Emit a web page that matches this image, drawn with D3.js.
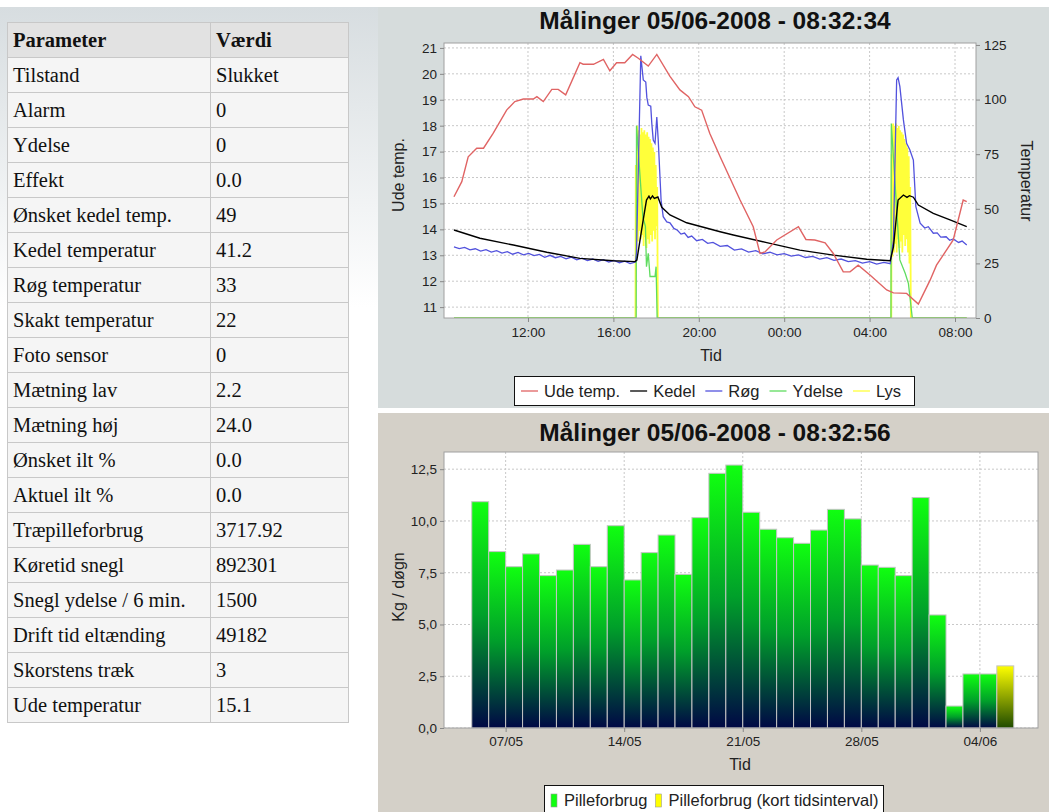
<!DOCTYPE html>
<html>
<head>
<meta charset="utf-8">
<script src="https://cdnjs.cloudflare.com/ajax/libs/d3/7.8.5/d3.min.js"></script>
<style>
body { margin: 0; background: #fff; }
#wrap { position: relative; width: 1049px; height: 812px; overflow: hidden; }
#wrap svg { position: absolute; left: 0; top: 0; }
table { position: absolute; left: 7px; top: 22px; border-collapse: collapse; table-layout: fixed; width: 341px;
        font-family: "Liberation Serif", "Times New Roman", serif; font-size: 20.5px; color: #111; }
td, th { border: 1px solid #c8c8c8; height: 35px; padding: 0 0 0 5px; text-align: left; background: #f5f5f5;
         white-space: nowrap; box-sizing: border-box; }
th { background: #e2e2e2; font-weight: bold; }
.tick text { font-family: "Liberation Sans", Arial, sans-serif; font-size: 13.5px; fill: #222; }
.tick line { stroke: #888; }
.title { font-family: "Liberation Sans", Arial, sans-serif; font-size: 24.5px; font-weight: bold; fill: #111; }
.lbl { font-family: "Liberation Sans", Arial, sans-serif; font-size: 16px; fill: #222; }
.leg { font-family: "Liberation Sans", Arial, sans-serif; font-size: 16.5px; fill: #222; }
</style>
</head>
<body>
<div id="wrap"></div>
<script>
// ---- parameter table
var paramNames = ["Tilstand", "Alarm", "Ydelse", "Effekt", "Ønsket kedel temp.", "Kedel temperatur",
  "Røg temperatur", "Skakt temperatur", "Foto sensor", "Mætning lav", "Mætning høj", "Ønsket ilt %",
  "Aktuel ilt %", "Træpilleforbrug", "Køretid snegl", "Snegl ydelse / 6 min.", "Drift tid eltænding",
  "Skorstens træk", "Ude temperatur"];
var paramValues = ["Slukket", "0", "0", "0.0", "49", "41.2", "33", "22", "0", "2.2", "24.0", "0.0",
  "0.0", "3717.92", "892301", "1500", "49182", "3", "15.1"];

// ---- top chart: 04/06 08:32 -> 05/06 08:32
var udeTemp = [["08:32",15.26],["08:54",15.84],["09:12",16.8],["09:36",17.13],["09:55",17.13],["10:22",17.7],
  ["11:00",18.6],["11:23",18.93],["11:47",19.03],["12:15",19.03],["12:25",19.12],["12:43",18.93],["13:07",19.4],
  ["13:25",19.4],["13:46",19.19],["14:26",20.43],["14:35",20.37],["15:04",20.37],["15:32",20.56],["15:50",20.12],
  ["16:09",20.43],["16:32",20.43],["16:54",20.75],["17:10",20.6],["17:38",20.3],["18:02",20.75],["18:39",19.9],
  ["19:07",19.38],["19:31",19.12],["19:49",18.73],["20:08",18.6],["20:31",17.7],["21:00",16.8],["21:56",15.13],
  ["22:33",14.1],["22:52",13.07],["23:06",13.13],["23:39",13.59],["00:40",14.1],["01:01",13.61],["01:26",13.59],
  ["01:55",13.48],["02:18",13.07],["02:46",12.36],["03:05",12.36],["03:28",12.62],["04:01",12.24],["04:48",11.66],
  ["05:07",11.55],["05:44",11.53],["06:17",11.12],["06:50",12.04],["07:08",12.62],["07:55",13.59],["08:23",15.13],
  ["08:33",15.07]];
var kedel = [["08:32",40.3],["09:45",36.5],["11:19",33.4],["12:53",30.1],["14:26",27.3],["16:00",26.2],["17:01",25.8],
  ["17:06",26.5],["17:23",44.1],["17:33",54],["17:40",55.8],["17:44",54.5],["17:50",55.9],["17:55",54.8],["18:05",55.4],
  ["18:16",50.7],["18:39",47.2],["19:26",43.6],["21:00",39.5],["21:37",38],["23:11",34.5],["00:44",31.1],["02:18",28.8],
  ["03:52",26.9],["04:58",26.2],["05:07",32.6],["05:20",54],["05:35",56.3],["05:45",55.2],["05:52",56],["06:03",55.3],
  ["06:17",51.7],["06:59",47.9],["07:46",44.9],["08:33",41.8]];
var roeg = [["08:32",32.6],["08:47",31.8],["09:02",32.3],["09:17",31.2],["09:32",31.7],["09:47",30.6],["10:02",31.3],
  ["10:17",30.2],["10:32",30.8],["10:47",29.7],["11:02",30.4],["11:17",29.2],["11:32",30.0],["11:47",28.9],["12:02",29.6],
  ["12:17",28.6],["12:32",29.1],["12:47",27.8],["13:02",28.7],["13:17",27.6],["13:32",28.2],["13:47",27.1],["14:02",27.9],
  ["14:17",26.6],["14:32",27.4],["14:47",26.3],["15:02",27.0],["15:17",25.9],["15:32",26.7],["15:47",25.6],["16:02",26.4],
  ["16:17",25.3],["16:32",26.0],["16:47",24.9],["17:02",25.6],["17:05",30],["17:17",120],["17:24",109],["17:31",108],
  ["17:34",101],["17:38",97.5],["17:45",97],["17:48",89],["17:52",81.5],["17:57",80],["18:02",92],["18:06",81.5],
  ["18:14",54],["18:20",46.4],["18:30",44.0],["18:39",43.6],["18:50",41.0],["19:00",40.2],["19:10",38.4],["19:20",38.9],
  ["19:30",36.9],["19:40",37.5],["19:54",35.4],["20:10",36.0],["20:25",34.2],["20:40",34.6],["21:00",32.8],["21:20",33.2],
  ["21:40",31.1],["22:00",31.6],["22:20",30.2],["22:40",30.8],["23:00",29.4],["23:20",30.1],["23:40",28.9],["00:00",29.5],
  ["00:20",28.3],["00:40",28.9],["01:00",27.7],["01:20",28.2],["01:40",27.0],["02:00",27.6],["02:20",26.4],["02:40",27.0],
  ["03:00",25.8],["03:20",26.3],["03:40",25.1],["04:00",25.8],["04:20",24.7],["04:40",25.5],["04:58",24.9],["05:07",35.7],
  ["05:16",109],["05:20",110],["05:25",106],["05:35",90.7],["05:44",80],["05:53",77],["06:03",72.3],["06:10",51],
  ["06:22",43.4],["06:35",41.2],["06:45",41.8],["06:59",38.8],["07:10",39.0],["07:20",37.0],["07:35",37.2],["07:45",35.6],
  ["07:55",36.2],["08:10",34.6],["08:20",35.2],["08:33",33.4]];
var ydelse = [["08:32",0],["17:04",0],["17:05",88],["17:23",46],["17:30",42],["17:33",23.5],["17:38",29.6],["17:43",19],
  ["17:57",19],["18:00",23.5],["18:03",0],["05:00",0],["05:01",89],["05:25",26.6],["05:40",20.5],["05:49",15.9],
  ["06:00",0],["08:33",0]];
var lys = [["08:32",0],["17:02",0],["17:03",70],["17:05",30],["17:07",88],["17:09",35],["17:11",86],["17:13",40],
  ["17:15",84],["17:17",36],["17:19",87],["17:21",38],["17:23",85],["17:25",33],["17:27",86],["17:29",37],["17:31",84],
  ["17:33",32],["17:35",85],["17:37",36],["17:39",83],["17:41",34],["17:43",82],["17:45",38],["17:47",80],["17:49",35],
  ["17:51",78],["17:53",40],["17:55",76],["17:57",36],["17:59",70],["18:01",42],["18:03",60],["18:05",0],["05:01",0],
  ["05:02",75],["05:04",28],["05:06",89],["05:08",30],["05:10",88],["05:12",34],["05:14",89],["05:16",30],["05:18",87],
  ["05:20",36],["05:22",88],["05:24",32],["05:26",86],["05:28",35],["05:30",85],["05:32",30],["05:34",84],["05:36",38],
  ["05:38",82],["05:40",33],["05:42",80],["05:44",36],["05:46",78],["05:48",30],["05:50",74],["05:52",25],["05:54",60],
  ["05:56",0],["08:33",0]];
var topTimeTicks = ["12:00", "16:00", "20:00", "00:00", "04:00", "08:00"];
var udeTicks = [11, 12, 13, 14, 15, 16, 17, 18, 19, 20, 21];
var tempTicks = [0, 25, 50, 75, 100, 125];

// ---- bottom chart: daily pellet consumption
var dayLabels = ["05/05","06/05","07/05","08/05","09/05","10/05","11/05","12/05","13/05","14/05","15/05","16/05",
  "17/05","18/05","19/05","20/05","21/05","22/05","23/05","24/05","25/05","26/05","27/05","28/05","29/05","30/05",
  "31/05","01/06","02/06","03/06","04/06"];
var pilleforbrug = [10.93, 8.52, 7.79, 8.41, 7.36, 7.63, 8.87, 7.79, 9.77, 7.15, 8.47, 9.32, 7.42, 10.16, 12.3, 12.7,
  10.42, 9.6, 9.19, 8.92, 9.56, 10.56, 10.1, 7.87, 7.76, 7.36, 11.13, 5.46, 1.06, 2.61, 2.61];
var kortDays = ["05/06"];
var kortValues = [3.0];
var dayTicks = ["07/05", "14/05", "21/05", "28/05", "04/06"];
var kgTicks = [0, 2.5, 5, 7.5, 10, 12.5];

// ---- helpers
function toSeries(pairs) {
  var day = 0, prev = -1;
  return pairs.map(function (p) {
    var hm = p[0].split(":"), m = +hm[0] * 60 + +hm[1];
    if (m < prev) day++;
    prev = m;
    return { t: new Date(2008, 5, 4 + day, +hm[0], +hm[1]), v: p[1] };
  });
}
function parseDay(s) {
  var a = s.split("/");
  return new Date(2008, +a[1] - 1, +a[0]);
}
function styleAxis(g) {
  g.select(".domain").remove();
}

// ---- table
var table = d3.select("#wrap").append("table");
var colgroup = table.append("colgroup");
colgroup.append("col").style("width", "203px");
colgroup.append("col").style("width", "138px");
var hr = table.append("tr");
hr.append("th").text("Parameter");
hr.append("th").text("Værdi");
paramNames.forEach(function (n, i) {
  var tr = table.append("tr");
  tr.append("td").text(n);
  tr.append("td").text(paramValues[i]);
});

var svg = d3.select("#wrap").insert("svg", "table").attr("width", 1049).attr("height", 812);
var defs = svg.append("defs");

var bg = defs.append("linearGradient").attr("id", "bgLeft").attr("x1", 0).attr("y1", 0).attr("x2", 0).attr("y2", 1);
bg.append("stop").attr("offset", 0).attr("stop-color", "#d7dde0");
bg.append("stop").attr("offset", 1).attr("stop-color", "#ffffff");
svg.append("rect").attr("x", 0).attr("y", 7).attr("width", 378).attr("height", 300).attr("fill", "url(#bgLeft)");

// ================= top chart =================
var p1 = { l: 444, r: 976, t: 43, b: 318 };
var gTop = svg.append("g");
gTop.append("rect").attr("x", 378).attr("y", 7).attr("width", 671).attr("height", 401).attr("fill", "#d6dcdc");
gTop.append("text").attr("class", "title").attr("x", 715).attr("y", 29).attr("text-anchor", "middle")
  .text("Målinger 05/06-2008 - 08:32:34");

var xT = d3.scaleTime().domain([new Date(2008, 5, 4, 8, 4), new Date(2008, 5, 5, 8, 59)]).range([p1.l, p1.r]);
var yL = d3.scaleLinear().domain([10.58, 21.19]).range([p1.b, p1.t]);
var yR = d3.scaleLinear().domain([0, 125.9]).range([p1.b, p1.t]);
var tickDates = toSeries(topTimeTicks.map(function (t) { return [t, 0]; })).map(function (d) { return d.t; });

gTop.append("rect").attr("x", p1.l).attr("y", p1.t).attr("width", p1.r - p1.l).attr("height", p1.b - p1.t)
  .attr("fill", "#fff");
gTop.selectAll(".hg").data(udeTicks).join("line")
  .attr("x1", p1.l).attr("x2", p1.r).attr("y1", function (d) { return yL(d); }).attr("y2", function (d) { return yL(d); })
  .attr("stroke", "#c8c8c8").attr("stroke-dasharray", "2,2");
gTop.selectAll(".vg").data(tickDates).join("line")
  .attr("y1", p1.t).attr("y2", p1.b).attr("x1", function (d) { return xT(d); }).attr("x2", function (d) { return xT(d); })
  .attr("stroke", "#c8c8c8").attr("stroke-dasharray", "2,2");

defs.append("clipPath").attr("id", "clipTop").append("rect")
  .attr("x", p1.l).attr("y", p1.t - 2).attr("width", p1.r - p1.l).attr("height", p1.b - p1.t + 2);

var lineR = d3.line().x(function (d) { return xT(d.t); }).y(function (d) { return yR(d.v); });
var lineL = d3.line().x(function (d) { return xT(d.t); }).y(function (d) { return yL(d.v); });
var plotTop = gTop.append("g").attr("clip-path", "url(#clipTop)");
[[lys, "#ffff3a", 1.8], [ydelse, "#5fdc5f", 1.3], [roeg, "#5252dd", 1.3], [kedel, "#000000", 1.4]].forEach(function (s) {
  plotTop.append("path").datum(toSeries(s[0])).attr("d", lineR)
    .attr("fill", "none").attr("stroke", s[1]).attr("stroke-width", s[2]);
});
plotTop.append("path").datum(toSeries(udeTemp)).attr("d", lineL)
  .attr("fill", "none").attr("stroke", "#e06464").attr("stroke-width", 1.4);

gTop.append("rect").attr("x", p1.l).attr("y", p1.t).attr("width", p1.r - p1.l).attr("height", p1.b - p1.t)
  .attr("fill", "none").attr("stroke", "#a0a0a0");

gTop.append("g").attr("transform", "translate(" + p1.l + ",0)")
  .call(d3.axisLeft(yL).tickValues(udeTicks).tickSize(4).tickPadding(3)).call(styleAxis);
gTop.append("g").attr("transform", "translate(" + p1.r + ",0)")
  .call(d3.axisRight(yR).tickValues(tempTicks).tickSize(4).tickPadding(4)).call(styleAxis);
gTop.append("g").attr("transform", "translate(0," + p1.b + ")")
  .call(d3.axisBottom(xT).tickValues(tickDates).tickFormat(d3.timeFormat("%H:%M")).tickSize(4).tickPadding(5))
  .call(styleAxis);

gTop.append("text").attr("class", "lbl").attr("transform", "translate(404,175) rotate(-90)")
  .attr("text-anchor", "middle").text("Ude temp.");
gTop.append("text").attr("class", "lbl").attr("transform", "translate(1021,181) rotate(90)")
  .attr("text-anchor", "middle").text("Temperatur");
gTop.append("text").attr("class", "lbl").attr("x", 711).attr("y", 361).attr("text-anchor", "middle").text("Tid");

// legend
var legTop = [["Ude temp.", "#e06464"], ["Kedel", "#000"], ["Røg", "#5252dd"], ["Ydelse", "#5fdc5f"], ["Lys", "#ffff3a"]];
var lt = gTop.append("g");
lt.append("rect").attr("x", 514.5).attr("y", 376.5).attr("width", 400).attr("height", 29)
  .attr("fill", "#fff").attr("stroke", "#111");
var lx = 521;
legTop.forEach(function (d) {
  lt.append("line").attr("x1", lx).attr("x2", lx + 17).attr("y1", 391).attr("y2", 391)
    .attr("stroke", d[1]).attr("stroke-width", 1.3);
  var t = lt.append("text").attr("class", "leg").attr("x", lx + 23).attr("y", 397).text(d[0]);
  lx += 23 + t.node().getComputedTextLength() + 10;
});

// ================= bottom chart =================
var p2 = { l: 444, r: 1038, t: 452, b: 728 };
var gBot = svg.append("g");
gBot.append("rect").attr("x", 378).attr("y", 413).attr("width", 671).attr("height", 399).attr("fill", "#d4d0c8");
gBot.append("text").attr("class", "title").attr("x", 715).attr("y", 441).attr("text-anchor", "middle")
  .text("Målinger 05/06-2008 - 08:32:56");

var xD = d3.scaleTime().domain([new Date(2008, 4, 3, 8, 40), new Date(2008, 5, 7, 10, 20)]).range([p2.l, p2.r]);
var yK = d3.scaleLinear().domain([0, 13.33]).range([p2.b, p2.t]);
var dayTickDates = dayTicks.map(parseDay);

gBot.append("rect").attr("x", p2.l).attr("y", p2.t).attr("width", p2.r - p2.l).attr("height", p2.b - p2.t)
  .attr("fill", "#fff");
gBot.selectAll(".hg").data(kgTicks).join("line")
  .attr("x1", p2.l).attr("x2", p2.r).attr("y1", function (d) { return yK(d); }).attr("y2", function (d) { return yK(d); })
  .attr("stroke", "#c8c8c8").attr("stroke-dasharray", "2,2");
gBot.selectAll(".vg").data(dayTickDates).join("line")
  .attr("y1", p2.t).attr("y2", p2.b).attr("x1", function (d) { return xD(d); }).attr("x2", function (d) { return xD(d); })
  .attr("stroke", "#c8c8c8").attr("stroke-dasharray", "2,2");

var gg = defs.append("linearGradient").attr("id", "barGreen").attr("x1", 0).attr("y1", 0).attr("x2", 0).attr("y2", 1);
gg.append("stop").attr("offset", 0).attr("stop-color", "#10ff10");
gg.append("stop").attr("offset", 0.5).attr("stop-color", "#00a02a");
gg.append("stop").attr("offset", 0.8).attr("stop-color", "#00443a");
gg.append("stop").attr("offset", 1).attr("stop-color", "#000845");
var gy = defs.append("linearGradient").attr("id", "barYellow").attr("x1", 0).attr("y1", 0).attr("x2", 0).attr("y2", 1);
gy.append("stop").attr("offset", 0).attr("stop-color", "#ffff00");
gy.append("stop").attr("offset", 1).attr("stop-color", "#1e4a00");

function drawBars(labels, values, fill) {
  var data = labels.map(function (l, i) { return { d: parseDay(l), v: values[i] }; });
  gBot.append("g").selectAll("rect").data(data).join("rect")
    .attr("x", function (d) { return xD(d.d); })
    .attr("width", function (d) { return xD(d3.timeDay.offset(d.d, 1)) - xD(d.d); })
    .attr("y", function (d) { return yK(d.v); })
    .attr("height", function (d) { return yK(0) - yK(d.v); })
    .attr("fill", fill).attr("stroke", "#c4c4c4").attr("stroke-width", 1);
}
drawBars(dayLabels, pilleforbrug, "url(#barGreen)");
drawBars(kortDays, kortValues, "url(#barYellow)");

gBot.append("rect").attr("x", p2.l).attr("y", p2.t).attr("width", p2.r - p2.l).attr("height", p2.b - p2.t)
  .attr("fill", "none").attr("stroke", "#a0a0a0");

gBot.append("g").attr("transform", "translate(" + p2.l + ",0)")
  .call(d3.axisLeft(yK).tickValues(kgTicks).tickSize(4).tickPadding(3)
    .tickFormat(function (d) { return d3.format(".1f")(d).replace(".", ","); }))
  .call(styleAxis);
gBot.append("g").attr("transform", "translate(0," + p2.b + ")")
  .call(d3.axisBottom(xD).tickValues(dayTickDates).tickFormat(d3.timeFormat("%d/%m")).tickSize(4).tickPadding(4))
  .call(styleAxis);

gBot.append("text").attr("class", "lbl").attr("transform", "translate(404,587) rotate(-90)")
  .attr("text-anchor", "middle").text("Kg / døgn");
gBot.append("text").attr("class", "lbl").attr("x", 740).attr("y", 770).attr("text-anchor", "middle").text("Tid");

var legBot = [["Pilleforbrug", "#10ff10"], ["Pilleforbrug (kort tidsinterval)", "#ffff00"]];
var lb = gBot.append("g");
lb.append("rect").attr("x", 544.5).attr("y", 785.5).attr("width", 339).attr("height", 30)
  .attr("fill", "#fff").attr("stroke", "#111");
var bx = 551;
legBot.forEach(function (d) {
  lb.append("rect").attr("x", bx).attr("y", 794).attr("width", 6).attr("height", 13)
    .attr("fill", d[1]).attr("stroke", "#999").attr("stroke-width", 0.6);
  var t = lb.append("text").attr("class", "leg").attr("x", bx + 13).attr("y", 806).text(d[0]);
  bx += 13 + t.node().getComputedTextLength() + 8;
});
</script>
</body>
</html>
